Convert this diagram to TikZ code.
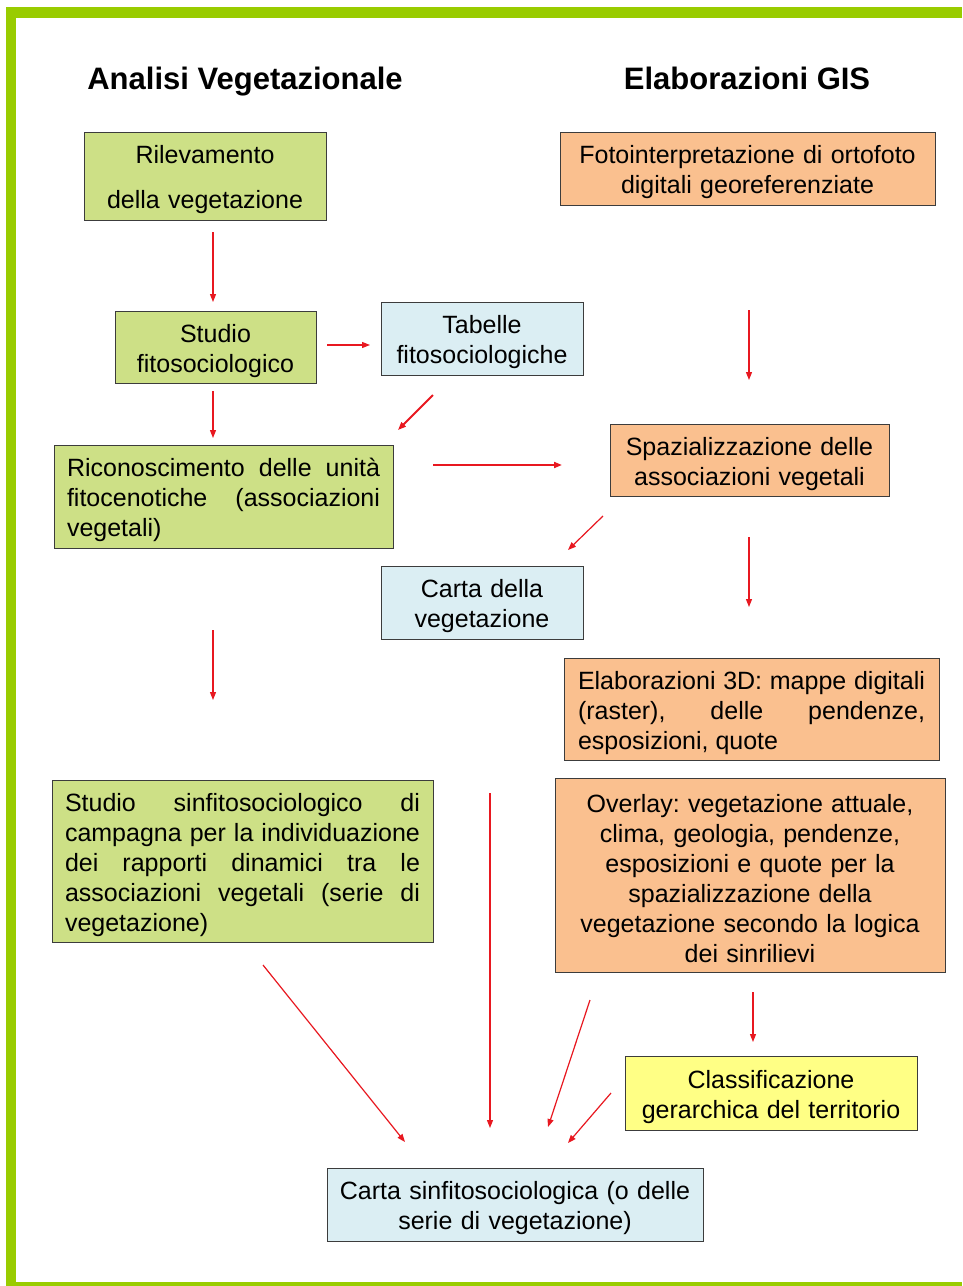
\documentclass[tikz,border=0pt]{standalone}
\usepackage{fontspec}
\setmainfont{Liberation Sans}
\usetikzlibrary{arrows.meta}

\definecolor{framegreen}{RGB}{153,204,0}
\definecolor{vegfill}{RGB}{205,224,134}
\definecolor{gisfill}{RGB}{250,192,143}
\definecolor{mapfill}{RGB}{219,238,243}
\definecolor{classfill}{RGB}{255,255,133}
\definecolor{boxline}{RGB}{60,60,60}
\definecolor{arrowred}{RGB}{232,24,32}

\tikzset{
  box/.style={draw=boxline, line width=0.8pt, inner sep=0pt, align=center,
    font=\fontsize{25}{30}\selectfont\frenchspacing,
    execute at begin node={\rule{0pt}{26pt}}},
  vegbox/.style={box, fill=vegfill},
  gisbox/.style={box, fill=gisfill},
  mapbox/.style={box, fill=mapfill},
  classbox/.style={box, fill=classfill},
  heading/.style={inner sep=0pt, anchor=base, font=\fontsize{31}{36}\selectfont\bfseries},
  arr/.style={draw=arrowred, line width=1.2pt,
    -{Triangle[length=8pt,width=6pt]}},
  arrthick/.style={arr, line width=1.8pt}
}

\begin{document}
\begin{tikzpicture}[x=1pt,y=-1pt]
\useasboundingbox (0,0) rectangle (962,1286);
\fill[white] (0,0) rectangle (962,1286);

% green frame
\fill[framegreen] (6,7) rectangle (962,18);
\fill[framegreen] (6,7) rectangle (16,1286);
\fill[framegreen] (6,1282) rectangle (962,1286);

% column headings
\node[heading] (h1) at (245,89.5) {Analisi Vegetazionale};
\node[heading] (h2) at (747,89.5) {Elaborazioni GIS};

% left column: vegetation analysis
\node[vegbox, minimum width=242pt, minimum height=88pt, text width=232pt] (ril) at (205,176)
  {Rilevamento\\[15pt]della vegetazione};
\node[vegbox, minimum width=201pt, minimum height=72pt, text width=191pt] (stu) at (215.5,347)
  {Studio\\fitosociologico};
\node[mapbox, minimum width=202pt, minimum height=73pt, text width=192pt] (tab) at (482,338.5)
  {Tabelle\\fitosociologiche};
\node[vegbox, minimum width=339pt, minimum height=103pt, text width=313pt,
  align=justify] (ric) at (223.5,496.5)
  {Riconoscimento delle unità\linebreak fitocenotiche (associazioni\linebreak vegetali)};
\node[mapbox, minimum width=202pt, minimum height=73pt, text width=192pt] (cveg) at (482,602.5)
  {Carta della\\vegetazione};
\node[vegbox, minimum width=381pt, minimum height=162pt, text width=355pt,
  align=justify] (sinf) at (242.5,861)
  {Studio sinfitosociologico di\linebreak campagna per la individuazione\linebreak
   dei rapporti dinamici tra le\linebreak associazioni vegetali (serie di\linebreak vegetazione)};

% right column: GIS processing
\node[gisbox, minimum width=375pt, minimum height=73pt, text width=365pt] (foto) at (747.5,168.5)
  {Fotointerpretazione di ortofoto\\digitali georeferenziate};
\node[gisbox, minimum width=279pt, minimum height=72pt, text width=269pt] (spaz) at (749.5,460)
  {Spazializzazione delle\\associazioni vegetali};
\node[gisbox, minimum width=375pt, minimum height=102pt, text width=347pt,
  align=justify] (el3d) at (751.5,709)
  {Elaborazioni 3D: mappe digitali\linebreak (raster), delle pendenze,\linebreak esposizioni, quote};
\node[gisbox, minimum width=390pt, minimum height=194pt, text width=380pt] (over) at (750,875)
  {Overlay: vegetazione attuale,\\clima, geologia, pendenze,\\esposizioni e quote per la\\
   spazializzazione della\\vegetazione secondo la logica\\dei sinrilievi};
\node[classbox, minimum width=292pt, minimum height=74pt, text width=282pt] (clas) at (771,1093)
  {Classificazione\\gerarchica del territorio};

% final product
\node[mapbox, minimum width=376pt, minimum height=73pt, text width=366pt] (csin) at (515,1204.5)
  {Carta sinfitosociologica (o delle\\serie di vegetazione)};

% connector end points
\coordinate (ril-out)  at (213,232);  \coordinate (stu-in)   at (213,302);
\coordinate (stu-out)  at (327,345);  \coordinate (tab-in)   at (370,345);
\coordinate (stu-dn)   at (213,391);  \coordinate (ric-in)   at (213,438);
\coordinate (tab-out)  at (433,395);  \coordinate (ric-in2)  at (398,430);
\coordinate (ric-out)  at (433,465);  \coordinate (spaz-in)  at (562,465);
\coordinate (foto-out) at (749,310);  \coordinate (spaz-in2) at (749,380);
\coordinate (spaz-out) at (603,516);  \coordinate (cveg-in)  at (568,550);
\coordinate (spaz-dn)  at (749,537);  \coordinate (el3d-in)  at (749,607);
\coordinate (ric-dn)   at (213,630);  \coordinate (sinf-in)  at (213,700);
\coordinate (cveg-out) at (490,793);  \coordinate (csin-in1) at (490,1128);
\coordinate (sinf-out) at (263,965);  \coordinate (csin-in2) at (405,1142);
\coordinate (over-out) at (590,1000); \coordinate (csin-in3) at (548,1127);
\coordinate (over-dn)  at (753,992);  \coordinate (clas-in)  at (753,1042);
\coordinate (clas-out) at (611,1093); \coordinate (csin-in4) at (568,1143);

% connectors
\draw[arr] (ril-out) -- (stu-in);
\draw[arr] (stu-out) -- (tab-in);
\draw[arr] (stu-dn) -- (ric-in);
\draw[arrthick] (tab-out) -- (ric-in2);
\draw[arrthick] (ric-out) -- (spaz-in);
\draw[arr] (foto-out) -- (spaz-in2);
\draw[arr] (spaz-out) -- (cveg-in);
\draw[arr] (spaz-dn) -- (el3d-in);
\draw[arr] (ric-dn) -- (sinf-in);
\draw[arr] (cveg-out) -- (csin-in1);
\draw[arr] (sinf-out) -- (csin-in2);
\draw[arr] (over-out) -- (csin-in3);
\draw[arr] (over-dn) -- (clas-in);
\draw[arr] (clas-out) -- (csin-in4);
\end{tikzpicture}
\end{document}
